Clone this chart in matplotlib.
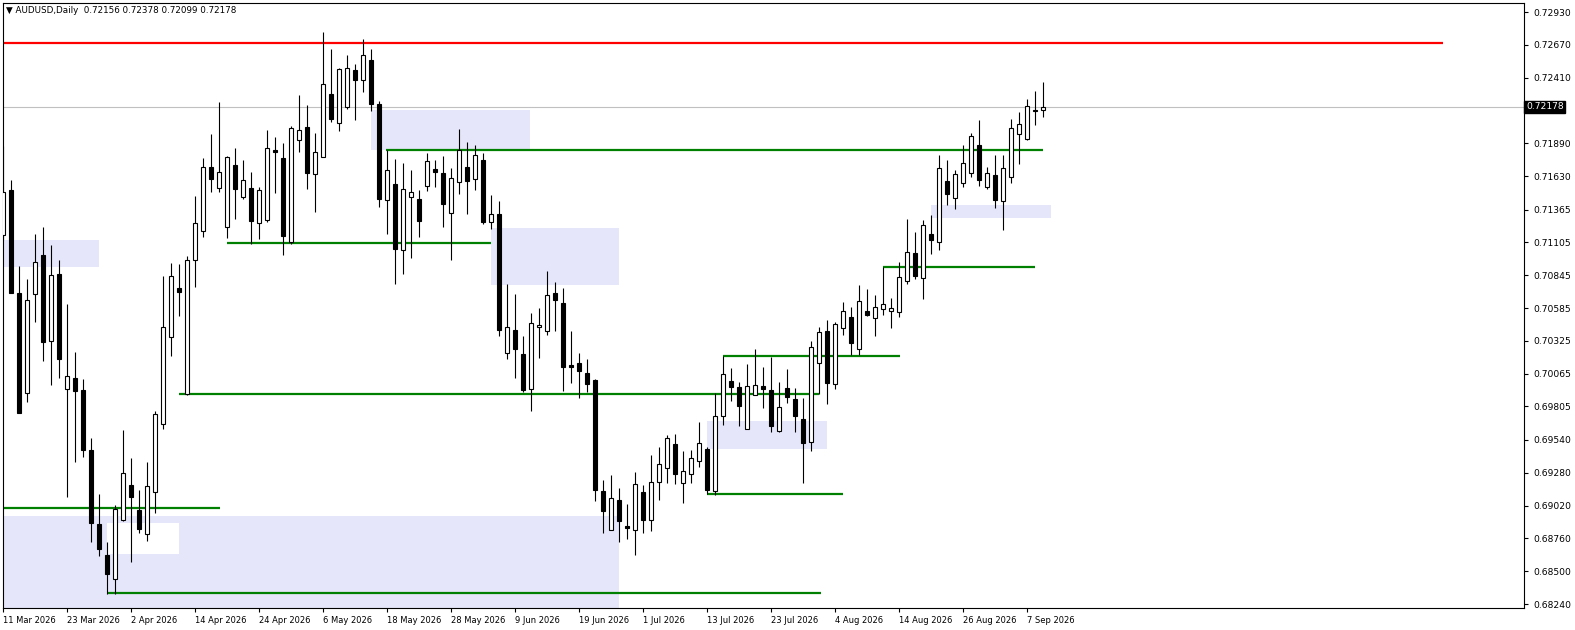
import matplotlib
matplotlib.use("Agg")
import matplotlib.pyplot as plt
from matplotlib.patches import Rectangle
import matplotlib.transforms as mtrans
import numpy as np

plt.rcParams['font.family'] = ['DejaVu Sans']

symbol = "AUDUSD,Daily"

opens = [
    0.71163, 0.71520, 0.70704, 0.69912, 0.70696, 0.71005, 0.70324, 0.70854, 0.69943, 0.70031,
    0.69936, 0.69460, 0.68874, 0.68628, 0.68438, 0.68906, 0.69183, 0.68985, 0.68795, 0.69127,
    0.69666, 0.70355, 0.70744, 0.69904, 0.70965, 0.71195, 0.71702, 0.71536, 0.71227, 0.71718,
    0.71464, 0.71536, 0.71258, 0.71282, 0.71837, 0.71773, 0.71108, 0.71916, 0.72019, 0.71647,
    0.71781, 0.72280, 0.72051, 0.72177, 0.72471, 0.72391, 0.72550, 0.72201, 0.71441, 0.71567,
    0.71045, 0.71464, 0.71449, 0.71552, 0.71686, 0.71655, 0.71338, 0.71583, 0.71702, 0.71607,
    0.71758, 0.71266, 0.71330, 0.70229, 0.70411, 0.70221, 0.69943, 0.70435, 0.70403, 0.70704,
    0.70625, 0.70134, 0.70149, 0.70070, 0.70015, 0.69135, 0.68826, 0.69064, 0.68858, 0.68826,
    0.69127, 0.68906, 0.69207, 0.69318, 0.69508, 0.69199, 0.69270, 0.69373, 0.69468, 0.69135,
    0.69730, 0.70007, 0.69959, 0.69627, 0.69896, 0.69967, 0.69936, 0.69611, 0.69951, 0.69864,
    0.69706, 0.69524, 0.70149, 0.70403, 0.69983, 0.70427, 0.70514, 0.70260, 0.70561, 0.70506,
    0.70577, 0.70561, 0.70553, 0.70799, 0.71021, 0.70823, 0.71171, 0.71108, 0.71591, 0.71457,
    0.71575, 0.71655, 0.71876, 0.71544, 0.71639, 0.71433, 0.71623, 0.71964, 0.71924, 0.72154,
    0.72156,
]
highs = [
    0.71868, 0.71599, 0.70918, 0.70815, 0.71171, 0.71227, 0.71084, 0.70965, 0.70617, 0.70237,
    0.70023, 0.69555, 0.69112, 0.68731, 0.69024, 0.69619, 0.69397, 0.69143, 0.69365, 0.69769,
    0.70839, 0.70942, 0.70934, 0.70997, 0.71472, 0.71773, 0.71964, 0.72217, 0.71789, 0.71853,
    0.71758, 0.71663, 0.71544, 0.71995, 0.71940, 0.71892, 0.72027, 0.72273, 0.72193, 0.71971,
    0.72772, 0.72637, 0.72486, 0.72589, 0.72518, 0.72716, 0.72637, 0.72225, 0.71837, 0.71765,
    0.71734, 0.71678, 0.71520, 0.71813, 0.71758, 0.71789, 0.71694, 0.72003, 0.71900, 0.71876,
    0.71813, 0.71480, 0.71433, 0.70775, 0.70696, 0.70363, 0.70546, 0.70585, 0.70878, 0.70791,
    0.70744, 0.70403, 0.70229, 0.70181, 0.70023, 0.69223, 0.69262, 0.69159, 0.69032, 0.69286,
    0.69183, 0.69421, 0.69484, 0.69579, 0.69587, 0.69452, 0.69460, 0.69682, 0.69484, 0.69912,
    0.70205, 0.70110, 0.69999, 0.70141, 0.70260, 0.70118, 0.70197, 0.69999, 0.70102, 0.69951,
    0.69872, 0.70324, 0.70435, 0.70490, 0.70474, 0.70633, 0.70593, 0.70767, 0.70736, 0.70688,
    0.70910, 0.70664, 0.70950, 0.71290, 0.71187, 0.71282, 0.71322, 0.71797, 0.71758, 0.71678,
    0.71876, 0.71971, 0.72074, 0.71702, 0.71797, 0.71797, 0.72082, 0.72138, 0.72241, 0.72304,
    0.72378,
]
lows = [
    0.71124, 0.70704, 0.69753, 0.69840, 0.70474, 0.70165, 0.69975, 0.70031, 0.69088, 0.69365,
    0.69405, 0.68731, 0.68620, 0.68319, 0.68319, 0.68898, 0.68573, 0.68803, 0.68739, 0.68961,
    0.69627, 0.70205, 0.70522, 0.69896, 0.70751, 0.71148, 0.71504, 0.71504, 0.71140, 0.71290,
    0.71449, 0.71092, 0.71132, 0.71266, 0.71496, 0.71005, 0.71092, 0.71821, 0.71528, 0.71346,
    0.71781, 0.72059, 0.71987, 0.72162, 0.72074, 0.72296, 0.72146, 0.71385, 0.71171, 0.70775,
    0.70854, 0.70981, 0.71148, 0.71512, 0.71544, 0.71227, 0.70965, 0.71488, 0.71330, 0.71520,
    0.71251, 0.71211, 0.70363, 0.70181, 0.70031, 0.69920, 0.69769, 0.70189, 0.70371, 0.70403,
    0.69928, 0.69991, 0.69872, 0.69920, 0.69056, 0.68803, 0.68826, 0.68731, 0.68755, 0.68628,
    0.68803, 0.68819, 0.69064, 0.69199, 0.69191, 0.69040, 0.69199, 0.69326, 0.69112, 0.69104,
    0.69658, 0.69848, 0.69650, 0.69627, 0.69896, 0.69793, 0.69603, 0.69603, 0.69833, 0.69603,
    0.69199, 0.69452, 0.69904, 0.69825, 0.69943, 0.70371, 0.70213, 0.70213, 0.70522, 0.70363,
    0.70530, 0.70427, 0.70514, 0.70775, 0.70815, 0.70656, 0.71013, 0.71045, 0.71401, 0.71369,
    0.71544, 0.71623, 0.71552, 0.71528, 0.71377, 0.71203, 0.71575, 0.71726, 0.71916, 0.72035,
    0.72099,
]
closes = [
    0.71504, 0.70704, 0.69753, 0.70648, 0.70950, 0.70316, 0.70847, 0.70181, 0.70046, 0.69928,
    0.69460, 0.68882, 0.68676, 0.68478, 0.68993, 0.69278, 0.69088, 0.68834, 0.69175, 0.69745,
    0.70435, 0.70839, 0.70712, 0.70965, 0.71258, 0.71702, 0.71607, 0.71663, 0.71781, 0.71528,
    0.71599, 0.71274, 0.71520, 0.71853, 0.71821, 0.71156, 0.72011, 0.71995, 0.71655, 0.71821,
    0.72360, 0.72082, 0.72478, 0.72486, 0.72391, 0.72589, 0.72201, 0.71449, 0.71678, 0.71053,
    0.71528, 0.71504, 0.71274, 0.71750, 0.71663, 0.71409, 0.71615, 0.71837, 0.71591, 0.71797,
    0.71266, 0.71330, 0.70411, 0.70435, 0.70260, 0.69936, 0.70466, 0.70450, 0.70688, 0.70648,
    0.70118, 0.70118, 0.70086, 0.69983, 0.69143, 0.68977, 0.69080, 0.68898, 0.68842, 0.69191,
    0.68906, 0.69207, 0.69349, 0.69555, 0.69270, 0.69294, 0.69397, 0.69516, 0.69143, 0.69730,
    0.70062, 0.69959, 0.69809, 0.69967, 0.69975, 0.69943, 0.69650, 0.69801, 0.69880, 0.69730,
    0.69516, 0.70276, 0.70395, 0.69991, 0.70458, 0.70561, 0.70308, 0.70641, 0.70530, 0.70593,
    0.70617, 0.70585, 0.70831, 0.71029, 0.70839, 0.71243, 0.71124, 0.71694, 0.71488, 0.71647,
    0.71734, 0.71948, 0.71599, 0.71655, 0.71441, 0.71694, 0.72011, 0.72043, 0.72185, 0.72146,
    0.72178,
]

date_labels = ['11 Mar 2026', '23 Mar 2026', '2 Apr 2026', '14 Apr 2026', '24 Apr 2026',
               '6 May 2026', '18 May 2026', '28 May 2026', '9 Jun 2026', '19 Jun 2026',
               '1 Jul 2026', '13 Jul 2026', '23 Jul 2026', '4 Aug 2026', '14 Aug 2026',
               '26 Aug 2026', '7 Sep 2026']
price_ticks = [0.72930, 0.72670, 0.72410, 0.71890, 0.71630, 0.71365, 0.71105, 0.70845,
               0.70585, 0.70325, 0.70065, 0.69805, 0.69540, 0.69280, 0.69020, 0.68760,
               0.68500, 0.68240]

# horizontal support / resistance levels (price, start bar, end bar)
green_levels = [0.69003, 0.68325, 0.69906, 0.71102, 0.71839, 0.70207, 0.69114, 0.70906]
green_start = [-0.1, 13, 22, 28, 47.9, 90, 88, 110]
green_end = [27.1, 102.2, 102, 61, 130, 112.1, 105, 129]
red_level = 0.72687
red_end = 180

# zones (bar start, bar end, top price, bottom price)
zone_x0 = [-0.1, 46, 61, -0.1, 88, 116]
zone_x1 = [12, 65.9, 77, 77, 103, 131]
zone_top = [0.71124, 0.72154, 0.71221, 0.68937, 0.69690, 0.71401]
zone_bot = [0.70912, 0.71839, 0.70770, 0.68150, 0.69468, 0.71300]
gap_x0, gap_x1, gap_top, gap_bot = 13, 22, 0.68884, 0.68636

W, H = 1575, 630
fig = plt.figure(figsize=(W / 100, H / 100), dpi=100)
fig.patch.set_facecolor('white')
L_px, R_px, T_px, B_px = 2.5, 1524, 3, 608
ax = fig.add_axes([L_px / W, (H - B_px) / H, (R_px - L_px) / W, (B_px - T_px) / H])
ax.set_facecolor('white')

o = np.array(opens); h = np.array(highs); l = np.array(lows); c = np.array(closes)
idx = np.arange(len(o))
up = c >= o

for x0, x1, t, b in zip(zone_x0, zone_x1, zone_top, zone_bot):
    ax.add_patch(Rectangle((x0, b), x1 - x0, t - b, facecolor='#e6e6fa', edgecolor='none', zorder=1))
ax.add_patch(Rectangle((gap_x0, gap_bot), gap_x1 - gap_x0, gap_top - gap_bot,
                       facecolor='white', edgecolor='none', zorder=1.2))

ax.axhline(closes[-1], color='#c0c0c0', lw=0.8, zorder=1.5)
ax.hlines(green_levels, green_start, green_end, color='#008000', lw=1.6, zorder=2)
ax.hlines([red_level], [-0.1], [red_end], color='#ff0000', lw=1.6, zorder=2)

ax.vlines(idx, l, h, color='black', lw=0.8, zorder=3)
ax.bar(idx[up], np.maximum(c[up] - o[up], 1e-6), bottom=o[up], width=0.5,
       facecolor='white', edgecolor='black', linewidth=0.8, zorder=4)
ax.bar(idx[~up], np.minimum(c[~up] - o[~up], -1e-6), bottom=o[~up], width=0.5,
       facecolor='black', edgecolor='black', linewidth=0.8, zorder=4)

ax.set_xlim((L_px - 3) / 8, (R_px - 3) / 8)
ax.set_ylim(0.730251 - 7.922e-5 * B_px, 0.730251 - 7.922e-5 * T_px)

for s in ax.spines.values():
    s.set_color('black'); s.set_linewidth(0.8)

ax.yaxis.tick_right()
ax.set_yticks(price_ticks)
ax.set_yticklabels([f"{v:.5f}" for v in price_ticks])
ax.tick_params(axis='y', direction='out', length=3, width=0.8, pad=4, labelsize=6.6, colors='black')

ax.set_xticks(np.arange(len(date_labels)) * 8)
ax.set_xticklabels(date_labels)
for t in ax.get_xticklabels():
    t.set_ha('left')
ax.tick_params(axis='x', direction='out', length=3, width=0.8, pad=3, labelsize=6.0, colors='black')

trans = mtrans.blended_transform_factory(ax.transAxes, ax.transData)
ax.text(1 + 2 / (R_px - L_px), closes[-1], f"{closes[-1]:.5f}", transform=trans,
        ha='left', va='center', fontsize=6.6, color='white', zorder=10,
        bbox=dict(boxstyle='square,pad=0.2', facecolor='black', edgecolor='black'))

title = f"\u25bc {symbol}  {opens[-1]:.5f} {highs[-1]:.5f} {lows[-1]:.5f} {closes[-1]:.5f}"
fig.text(6 / W, 1 - 10.5 / H, title, ha='left', va='center', fontsize=6.3, color='black')

fig.savefig('out.png', dpi=100, facecolor='white')
